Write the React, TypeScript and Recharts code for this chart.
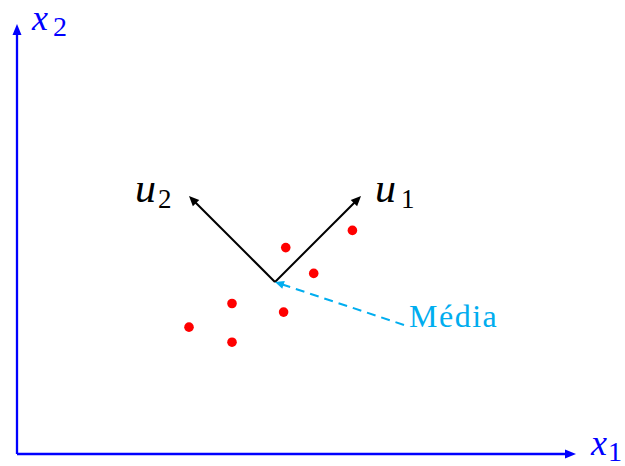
import React from 'react'
import {
  ScatterChart,
  Scatter,
  XAxis,
  YAxis,
  ReferenceLine,
  ReferenceDot,
} from 'recharts'

// sample points
const dotX = [7.8, 6.25, 6.9, 5.0, 6.2, 4.0, 5.0]
const dotY = [5.2, 4.8, 4.2, 3.5, 3.3, 2.95, 2.6]

// axis extents
const axisEndX = 13
const axisEndY = 10

// mean and principal directions
const mean = { x: 6, y: 4 }
const u1End = { x: 8, y: 6 }
const u2End = { x: 4, y: 6 }
const mediaAnchor = { x: 9, y: 3 }

const points = dotX.map((x, i) => ({ x, y: dotY[i] }))

const BLUE = '#0000ff'
const CYAN = '#00adef'
const FONT = 'Liberation Serif'

function arrow(color: string, width: number, headLen: number, headHalf: number, dash?: string) {
  return (p: any) => {
    const { x1, y1, x2, y2 } = p
    const dx = x2 - x1
    const dy = y2 - y1
    const len = Math.hypot(dx, dy) || 1
    const ux = dx / len
    const uy = dy / len
    const bx = x2 - ux * headLen
    const by = y2 - uy * headLen
    const ex = x2 - ux * headLen * 0.7
    const ey = y2 - uy * headLen * 0.7
    const pts = [
      `${x2},${y2}`,
      `${bx - uy * headHalf},${by + ux * headHalf}`,
      `${bx + uy * headHalf},${by - ux * headHalf}`,
    ].join(' ')
    return (
      <g>
        <line
          x1={x1}
          y1={y1}
          x2={ex}
          y2={ey}
          stroke={color}
          strokeWidth={width}
          strokeDasharray={dash}
        />
        <polygon points={pts} fill={color} />
      </g>
    )
  }
}

// math-style label: italic letter with an upright subscript
function mathLabel(
  letter: string,
  sub: string,
  color: string,
  size: number,
  subSize: number,
  dx: number,
  dy: number,
  subDx: number,
  subDy: number
) {
  return (p: any) => (
    <g style={{ fontFamily: FONT }}>
      <text
        x={p.cx + dx}
        y={p.cy + dy}
        fill={color}
        fontFamily={FONT}
        fontSize={size}
        fontStyle="italic"
        style={{ fontFamily: FONT, fontStyle: 'italic' }}
      >
        {letter}
      </text>
      <text
        x={p.cx + subDx}
        y={p.cy + subDy}
        fill={color}
        fontFamily={FONT}
        fontSize={subSize}
        style={{ fontFamily: FONT }}
      >
        {sub}
      </text>
    </g>
  )
}

export default function App() {
  return (
    <div
      style={{
        position: 'absolute',
        left: 0,
        top: 0,
        width: 625,
        height: 466,
        background: '#fff',
        fontFamily: FONT,
      }}
    >
      <ScatterChart width={625} height={466} margin={{ top: 2.5, right: 6, bottom: 12, left: 17 }}>
        <XAxis type="number" dataKey="x" domain={[0, 14]} allowDataOverflow hide />
        <YAxis type="number" dataKey="y" domain={[0, 10.5]} allowDataOverflow hide />

        {/* axes */}
        <ReferenceLine
          segment={[{ x: 0, y: 0 }, { x: axisEndX, y: 0 }]}
          shape={arrow(BLUE, 2.3, 11, 4.5)}
          ifOverflow="visible"
        />
        <ReferenceLine
          segment={[{ x: 0, y: 0 }, { x: 0, y: axisEndY }]}
          shape={arrow(BLUE, 2.3, 11, 4.5)}
          ifOverflow="visible"
        />

        <Scatter
          data={points}
          isAnimationActive={false}
          shape={(p: any) => <circle cx={p.cx} cy={p.cy} r={4.8} fill="#ff0000" />}
        />

        {/* principal directions */}
        <ReferenceLine
          segment={[mean, u1End]}
          shape={arrow('#000', 2, 10, 4.5)}
          ifOverflow="visible"
        />
        <ReferenceLine
          segment={[mean, u2End]}
          shape={arrow('#000', 2, 10, 4.5)}
          ifOverflow="visible"
        />
        <ReferenceLine
          segment={[mediaAnchor, mean]}
          shape={arrow(CYAN, 2, 9, 4, '9 6')}
          ifOverflow="visible"
        />

        {/* labels */}
        <ReferenceDot
          x={axisEndX}
          y={0}
          ifOverflow="visible"
          shape={mathLabel('x', '1', BLUE, 36, 28, 15, 1, 32, 7)}
        />
        <ReferenceDot
          x={0}
          y={axisEndY}
          ifOverflow="visible"
          shape={mathLabel('x', '2', BLUE, 36, 28, 15, 6, 36, 12)}
        />
        <ReferenceDot
          x={u1End.x}
          y={u1End.y}
          ifOverflow="visible"
          shape={mathLabel('u', '1', '#000', 42, 27, 14, 6, 40, 12)}
        />
        <ReferenceDot
          x={u2End.x}
          y={u2End.y}
          ifOverflow="visible"
          shape={mathLabel('u', '2', '#000', 42, 27, -54, 6, -31, 12)}
        />
        <ReferenceDot
          x={mediaAnchor.x}
          y={mediaAnchor.y}
          ifOverflow="visible"
          shape={(p: any) => (
            <text
              x={p.cx + 5}
              y={p.cy + 2}
              fill={CYAN}
              fontFamily={FONT}
              fontSize={32}
              letterSpacing={1.5}
              style={{ fontFamily: FONT }}
            >
              Média
            </text>
          )}
        />
      </ScatterChart>
    </div>
  )
}
